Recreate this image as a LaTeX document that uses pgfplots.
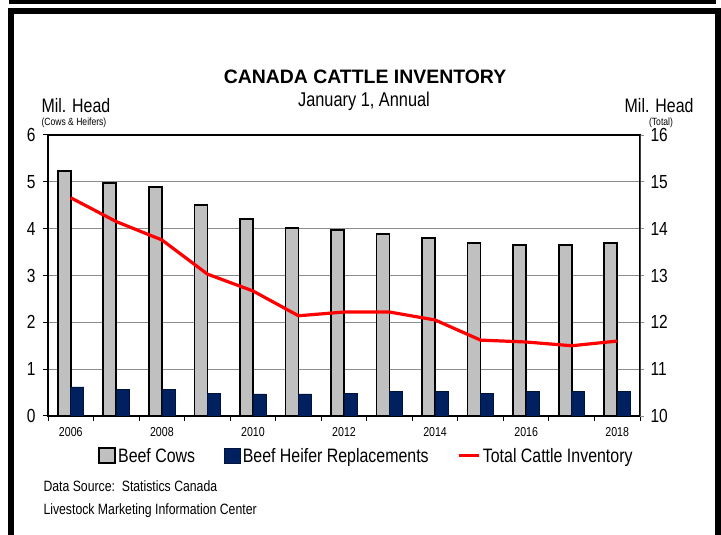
\documentclass[border=0pt]{standalone}
\usepackage{fontspec}
\setmainfont{Liberation Sans}[FakeStretch=0.82]
\newfontfamily\titlefont{Liberation Sans}
\usepackage{pgfplots}
\pgfplotsset{compat=1.18}
\definecolor{cowgray}{HTML}{C0C0C0}
\definecolor{heifnavy}{HTML}{002060}
\definecolor{gridgray}{HTML}{8C8C8C}

\pgfplotsset{
  boxlegend/.style={legend image code/.code={\draw[##1] (0bp,-7bp) rectangle (16bp,8bp);}},
  linelegend/.style={legend image code/.code={\draw[##1] (0bp,0bp) -- (20bp,0bp);}},
}

\pgfplotstableread{
idx year cows heifers total
0  2006 5.23 0.62 14.66
1  2007 4.98 0.56 14.15
2  2008 4.89 0.56 13.76
3  2009 4.51 0.49 13.03
4  2010 4.21 0.47 12.67
5  2011 4.02 0.47 12.14
6  2012 3.97 0.49 12.22
7  2013 3.89 0.53 12.22
8  2014 3.80 0.53 12.05
9  2015 3.70 0.49 11.62
10 2016 3.65 0.53 11.58
11 2017 3.65 0.53 11.50
12 2018 3.70 0.53 11.60
}\cattle

\begin{document}
\begin{tikzpicture}[x=1bp,y=1bp]
\useasboundingbox (0,0) rectangle (721,535);
% frame
\fill[black] (9,531) rectangle (716,535);
\fill[black] (8,0) rectangle (14,527);
\fill[black] (8,521) rectangle (721,527);
\fill[black] (715,0) rectangle (721,527);

% titles
\node[font=\titlefont\bfseries\fontsize{19.5}{22}\selectfont] at (365,458) {CANADA CATTLE INVENTORY};
\node[font=\fontsize{20}{22}\selectfont] at (364,434) {January 1, Annual};
\node[anchor=west,font=\fontsize{19.5}{22}\selectfont] at (38,429) {Mil. Head};
\node[anchor=west,font=\fontsize{10.5}{12}\selectfont] at (38,412) {(Cows \& Heifers)};
\node[anchor=east,font=\fontsize{19.5}{22}\selectfont] at (697,429) {Mil. Head};
\node[font=\fontsize{10.5}{12}\selectfont] at (661,412) {(Total)};
\node[anchor=west,font=\fontsize{15}{17}\selectfont] at (40,49) {Data Source:\ \ Statistics Canada};
\node[anchor=west,font=\fontsize{15}{17}\selectfont] at (40,24) {Livestock Marketing Information Center};

\begin{axis}[
  at={(48bp,119bp)}, anchor=south west,
  width=592bp, height=281bp, scale only axis,
  xmin=-0.5, xmax=12.5, ymin=0, ymax=6,
  ytick={0,...,6},
  xtick={0,2,...,12},
  xticklabels={2006,2008,2010,2012,2014,2016,2018},
  minor xtick={-0.5,0.5,...,12.5},
  xtick pos=bottom, ytick pos=left,
  tick align=outside,
  major tick length=5bp, minor tick length=5bp,
  every tick/.style={black, line width=1bp},
  major x tick style={draw=none},
  axis line style={black, line width=1.6bp},
  ymajorgrids, grid style={gridgray, line width=0.9bp},
  /pgf/number format/assume math mode=true,
  yticklabel style={font=\fontsize{19}{22}\selectfont, xshift=-4bp},
  xticklabel style={font=\fontsize{13}{15}\selectfont, yshift=-3bp},
]
\addplot[ybar, bar width=13bp, bar shift=-6.5bp, fill=cowgray, draw=black, line width=1.7bp] table[x=idx,y=cows]{\cattle};
\addplot[ybar, bar width=13bp, bar shift=6.5bp, fill=heifnavy, draw=heifnavy!60!black, line width=0.6bp] table[x=idx,y=heifers]{\cattle};
\end{axis}

\begin{axis}[
  at={(48bp,119bp)}, anchor=south west,
  width=592bp, height=281bp, scale only axis,
  xmin=-0.5, xmax=12.5, ymin=10, ymax=16,
  ytick={10,...,16},
  axis x line=none,
  axis y line*=right,
  axis line style={black!75, line width=1bp},
  tick align=outside,
  major tick length=4bp,
  every tick/.style={gridgray, line width=0.8bp},
  /pgf/number format/assume math mode=true,
  yticklabel style={font=\fontsize{19}{22}\selectfont, xshift=3bp},
  legend columns=3,
  legend style={at={(0.538,-0.142)}, anchor=center, draw=none, fill=none,
    font=\fontsize{19.5}{22}\selectfont,
    /tikz/every even column/.append style={column sep=27bp}},
  legend cell align=left,
]
\addlegendimage{boxlegend, fill=cowgray, draw=black, line width=1.7bp}
\addlegendentry{Beef Cows}
\addlegendimage{boxlegend, fill=heifnavy, draw=heifnavy!60!black, line width=0.6bp}
\addlegendentry{Beef Heifer Replacements}
\addplot[red, line width=3.2bp, line join=round, no markers, linelegend]
  table[x=idx,y=total]{\cattle};
\addlegendentry{Total Cattle Inventory}
\end{axis}
\end{tikzpicture}
\end{document}
